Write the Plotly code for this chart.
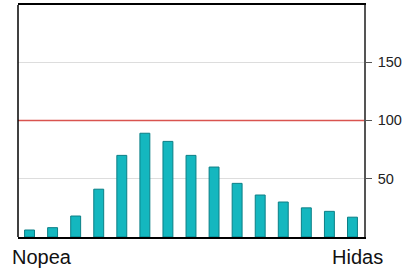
import plotly.graph_objects as go

categories = list(range(1, 16))
values = [6, 8, 18, 41, 70, 89, 82, 70, 60, 46, 36, 30, 25, 22, 17]
x_end_labels = ["Nopea", "Hidas"]
y_ticks = [50, 100, 150]
reference_level = 100

fig = go.Figure()
fig.add_trace(go.Bar(
    x=categories, y=values,
    marker=dict(color="#14B7BF", line=dict(color="#0B7F86", width=1)),
    width=0.43,
))

fig.add_shape(type="line", xref="paper", x0=0, x1=1, yref="y",
              y0=reference_level, y1=reference_level,
              line=dict(color="#D9534F", width=1.5))
fig.add_shape(type="line", xref="paper", x0=0, x1=0, yref="paper", y0=0, y1=1,
              line=dict(color="#000000", width=1.5))

label_font = dict(size=20, color="#111111", family="Liberation Sans, Arial, sans-serif")
fig.add_annotation(text=x_end_labels[0], xref="paper", yref="paper",
                   x=-0.024, y=-0.086, xanchor="left", yanchor="middle",
                   showarrow=False, font=label_font)
fig.add_annotation(text=x_end_labels[1], xref="paper", yref="paper",
                   x=1.062, y=-0.086, xanchor="right", yanchor="middle",
                   showarrow=False, font=label_font)

fig.update_layout(
    width=418, height=271,
    margin=dict(l=18, r=54, t=5, b=34),
    paper_bgcolor="white", plot_bgcolor="white",
    showlegend=False,
    font=dict(family="Liberation Sans, Arial, sans-serif", color="#222222"),
    xaxis=dict(
        range=[0.5, 15.5],
        showticklabels=False,
        showgrid=False, zeroline=False,
        showline=True, mirror=True, linecolor="#000000", linewidth=1.5,
        ticks="", automargin=False,
    ),
    yaxis=dict(
        side="right", range=[0, 199],
        tickmode="array", tickvals=y_ticks,
        tickfont=dict(size=14.5),
        showgrid=True, gridcolor="#DDDDDD", gridwidth=1,
        zeroline=False,
        showline=True, linecolor="#555555", linewidth=1.5,
        ticks="outside", ticklen=6, tickcolor="#555555",
        ticklabelstandoff=3,
        automargin=False,
    ),
)

fig.write_html("out.html",
               config={"displayModeBar": False},
               post_script="document.body.style.margin='0';document.body.style.overflow='hidden';")
